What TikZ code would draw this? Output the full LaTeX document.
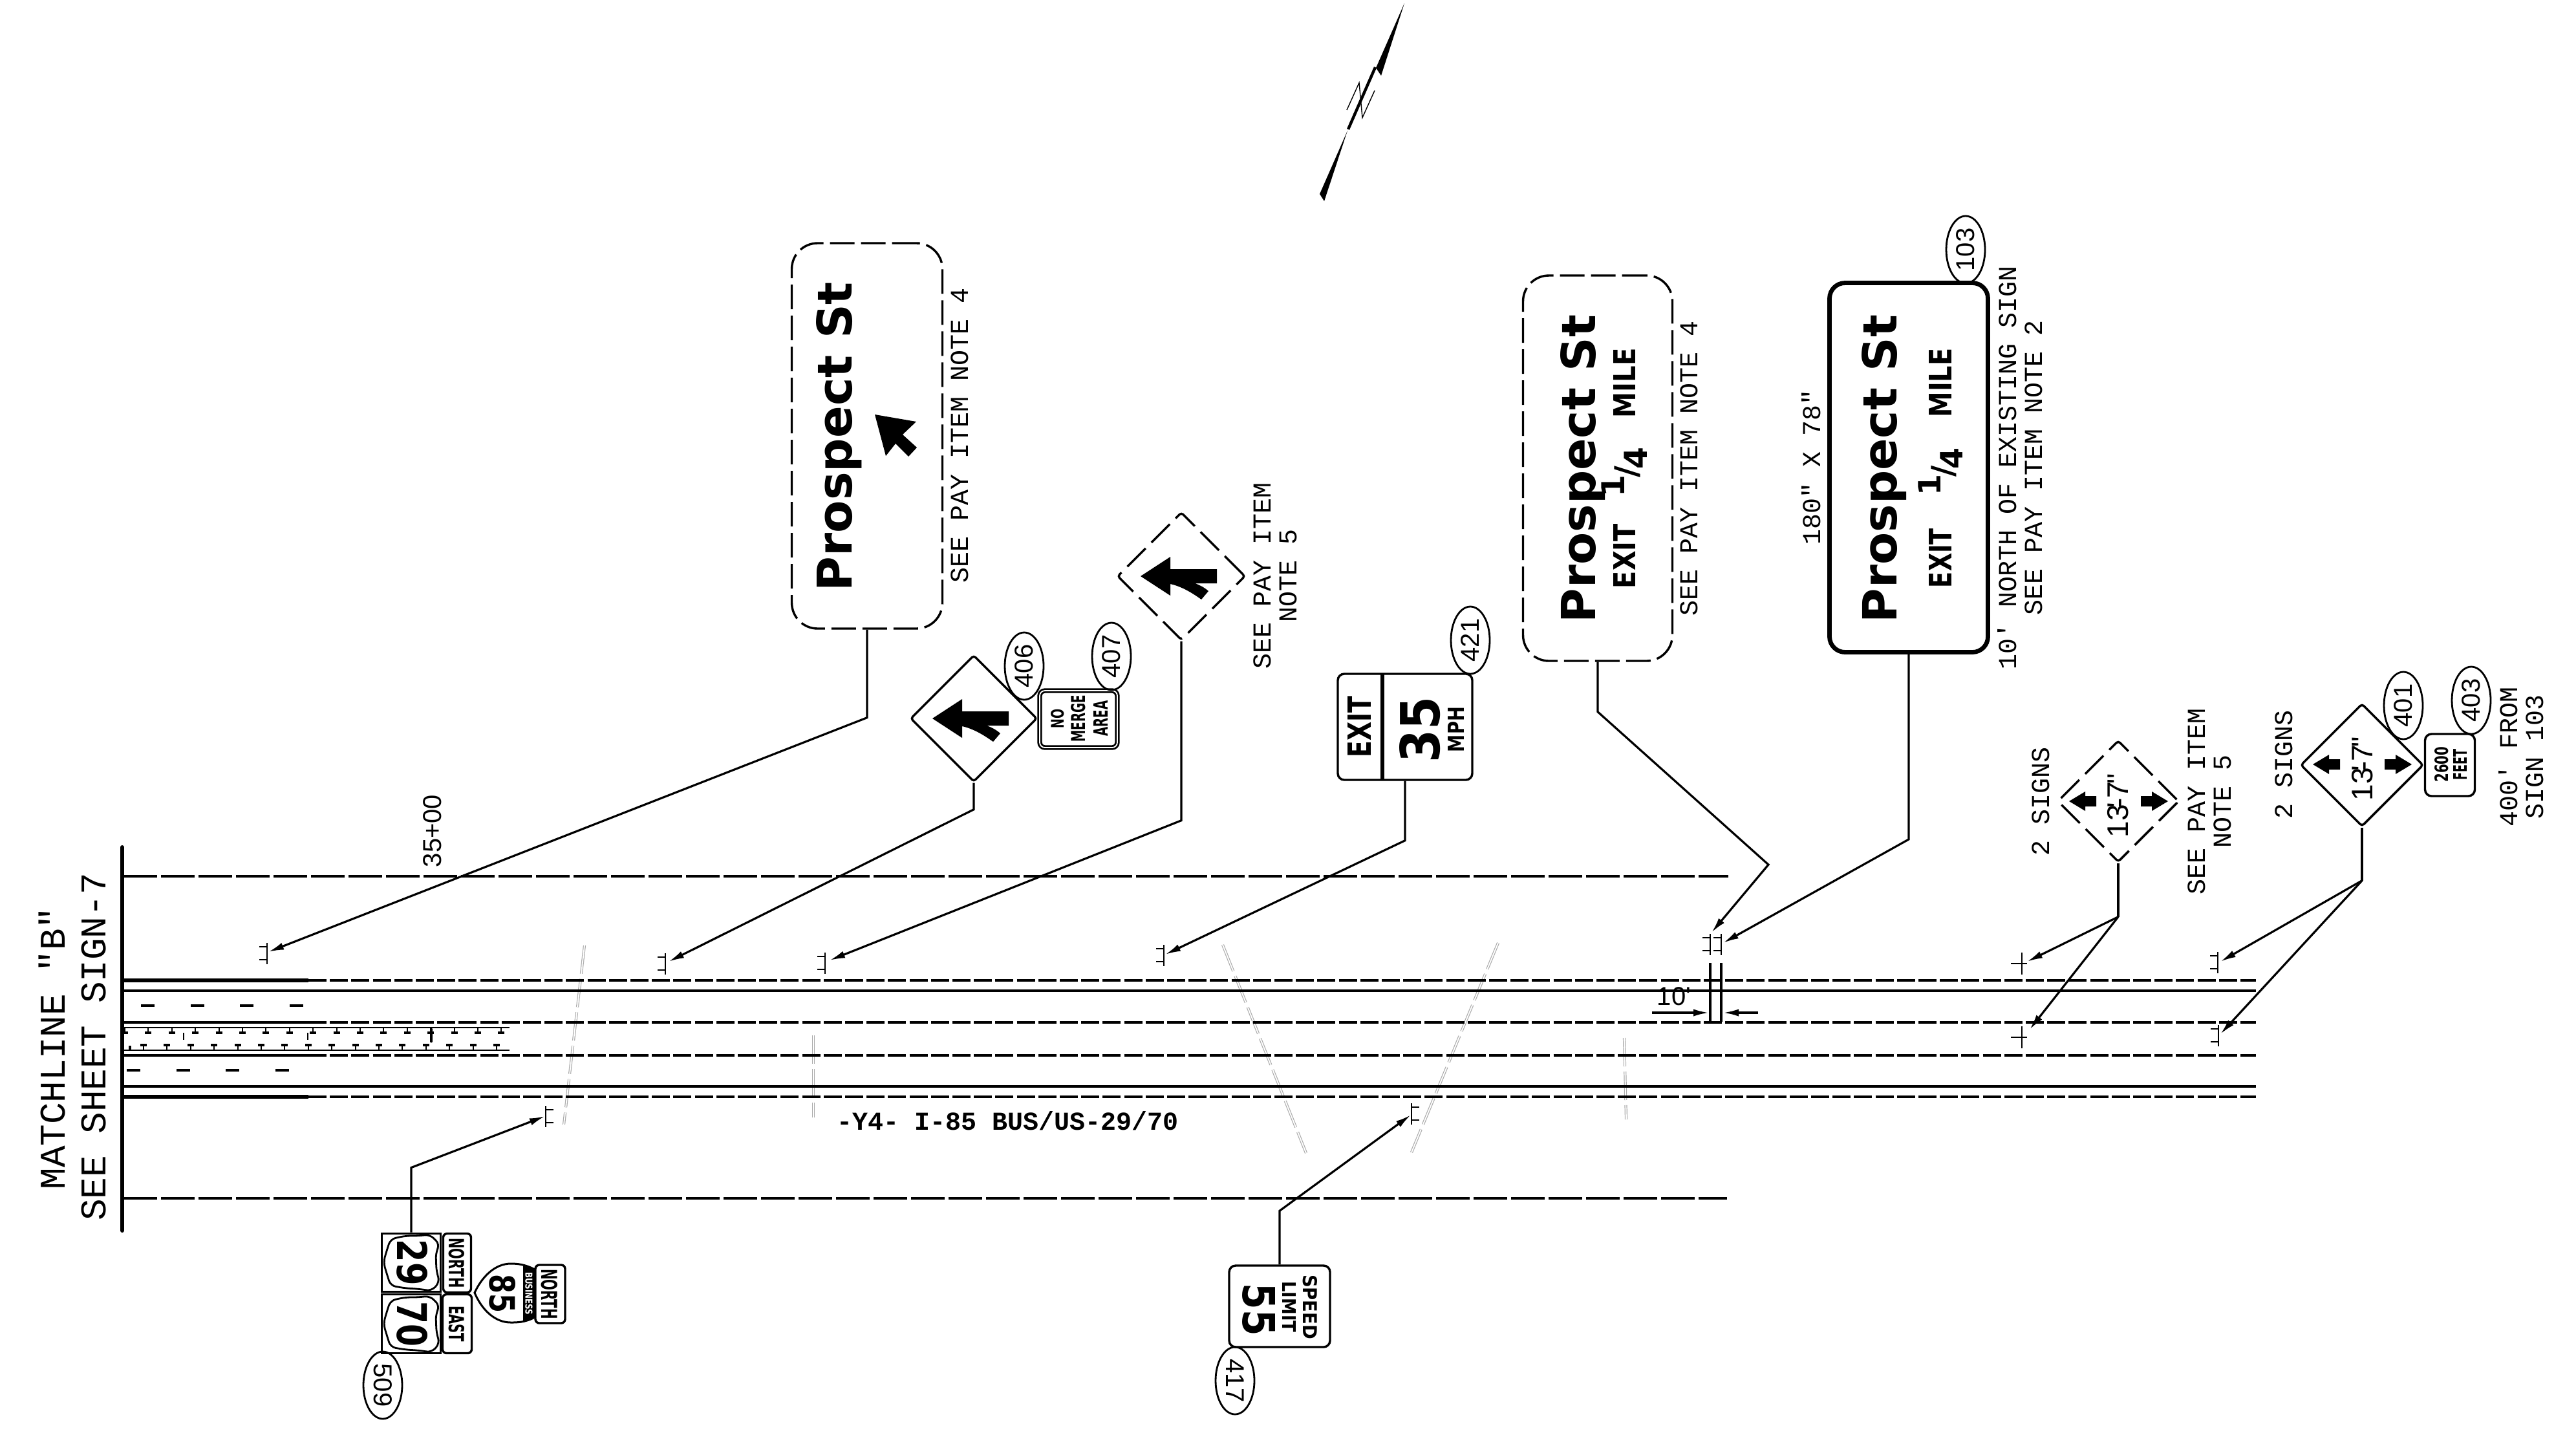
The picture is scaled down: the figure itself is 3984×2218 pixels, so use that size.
\documentclass[tikz,border=0pt]{standalone}
\usepackage{graphicx}
\usepackage{fontspec}
\usetikzlibrary{shapes.geometric, arrows.meta}
\newfontfamily\cadfont{Liberation Mono}
\newfontfamily\numfont{Liberation Sans}
\newfontfamily\signfont{DejaVu Sans}
\newcommand{\signfit}[3]{\resizebox{\dimexpr #1pt/4\relax}{\dimexpr #2pt/4\relax}{\signfont\bfseries #3}}
\newcommand{\signwide}[2]{\resizebox{\dimexpr #1pt/4\relax}{!}{\signfont\bfseries #2}}
\newcommand{\quartertxt}{\raisebox{.42em}{1}\kern-.1em/\kern-.1em\raisebox{-.3em}{4}}
\tikzset{
 pxsize/.style 2 args={minimum width=#1*0.25pt,minimum height=#2*0.25pt},
 signbox/.style={draw,rectangle,rounded corners=2.5pt,inner sep=0,line width=0.85pt},
 signdash/.style={signbox,rounded corners=10pt,dash pattern=on 9.5pt off 2.5pt},
 signdiam/.style={draw,diamond,aspect=1,inner sep=0,rounded corners=1pt,line width=0.85pt},
 diamdash/.style={signdiam,dash pattern=on 10pt off 3.2pt},
 oval/.style={draw,ellipse,rotate=90,inner sep=0,line width=0.7pt,minimum width=104*0.25pt,minimum height=60*0.25pt,font=\numfont\fontsize{10}{10}\selectfont},
 note/.style={rotate=90,inner sep=0,align=center,font=\cadfont\fontsize{10}{10}\selectfont},
 bigtxt/.style={rotate=90,inner sep=0,align=center,font=\cadfont\fontsize{14}{14}\selectfont},
 signtxt/.style={rotate=90,inner sep=0},
 signtxtr/.style={rotate=-90,inner sep=0},
 leader/.style={line width=0.8pt,-{Latex[length=6pt,width=2.8pt]}},
 stem/.style={line width=0.8pt},
 paveline/.style={line width=0.8pt},
 pavedash/.style={line width=0.9pt,dash pattern=on 7pt off 1.3pt},
 rowdash/.style={line width=0.8pt,dash pattern=on 13pt off 1.5pt},
 graydash/.style={draw=gray!65,line width=0.3pt,double,double distance=0.45pt,dash pattern=on 11pt off 2pt},
 postleft/.pic={\draw[line width=0.7pt] (0,-16.5) -- (0,16.5) (0,-10) -- (-12,-10) (0,10) -- (-12,10);},
 postright/.pic={\draw[line width=0.7pt] (0,-16.5) -- (0,16.5) (0,-10) -- (12,-10) (0,10) -- (12,10);},
 postcross/.pic={\draw[line width=0.7pt] (0,-17) -- (0,17) (-17,0) -- (8,0);},
 mergearrow/.pic={\fill (0,0) -- (46,-30) -- (46,-12) .. controls (64,-16) and (80,-26) .. (94,-36) -- (105,-23) .. controls (98,-17) and (92,-14) .. (84,-11) -- (118,-11) -- (118,11) -- (46,11) -- (46,30) -- cycle;},
 blockleft/.pic={\fill (0,0) -- (25,-15) -- (25,-8) -- (42,-8) -- (42,8) -- (25,8) -- (25,15) -- cycle;},
 blockright/.pic={\fill (0,0) -- (-25,-15) -- (-25,-8) -- (-42,-8) -- (-42,8) -- (-25,8) -- (-25,15) -- cycle;},
 usshield/.pic={\draw[line width=0.7pt,rounded corners=2pt] (32,-44) -- (10,-41) -- (-9,-40) -- (-32,-36) -- (-38,-17) -- (-43,0) -- (-38,18) -- (-32,36) -- (-9,41) -- (11,41) -- (29,43) -- (44,28) -- (38,15) -- (39,-14) -- (44,-30) -- cycle;}
}
\begin{document}
\begin{tikzpicture}[x=0.25pt,y=0.25pt,yscale=-1,xscale=1]
\useasboundingbox (0,0) rectangle (3984,2218);

%North arrow
\fill (2172,5) -- (2136,117) -- (2128,105) -- cycle;
\fill (2084,202) -- (2048,311) -- (2041,300) -- cycle;
\draw[line width=1.1pt] (2127,104) -- (2085,200);
\draw[line width=0.35pt] (2083,170) -- (2102,128) -- (2107,182) -- (2126,140);

%Construction lines
\draw[graydash] (904,1462) -- (872,1739);
\draw[graydash] (1258,1601) -- (1258,1728);
\draw[graydash] (1891,1461) -- (2020,1783);
\draw[graydash] (2317,1458) -- (2183,1782);
\draw[graydash] (2512,1605) -- (2515,1731);

%Road lines
\draw[line width=1.5pt,line cap=round] (189,1310) -- (189,1903);
\draw[rowdash] (191,1355) -- (2673,1355);
\draw[rowdash] (191,1853) -- (2671,1853);
\draw[line width=1.5pt] (191,1516) -- (477,1516);
\draw[line width=1.5pt] (191,1696) -- (477,1696);
\draw[line width=1.1pt] (191,1581) -- (477,1581);
\draw[line width=1.1pt] (191,1632) -- (477,1632);
\foreach \ly in {1516,1581,1632,1696} {
 \draw[pavedash] (477,\ly) -- (3489,\ly);
}
\draw[paveline] (191,1532) -- (3489,1532);
\draw[paveline] (191,1680) -- (3489,1680);
\foreach \lx in {218,295,371,448} {
 \draw[line width=0.8pt] (\lx,1555) -- (\lx+21,1555);
}
\foreach \lx in {196,273,349,426} {
 \draw[line width=0.8pt] (\lx,1655) -- (\lx+21,1655);
}

%Barrier
\draw[line width=0.7pt] (191,1589) -- (788,1589);
\draw[line width=0.7pt] (191,1624) -- (788,1624);
\foreach \i in {0,...,16} {
 \draw[line width=0.5pt] (193+36.4*\i,1589) -- (193+36.4*\i,1597);
 \draw[line width=0.8pt] (188+36.4*\i,1597) -- (198+36.4*\i,1597);
}
\foreach \i in {0,...,15} {
 \draw[line width=0.5pt] (222+36.4*\i,1624) -- (222+36.4*\i,1616);
 \draw[line width=0.8pt] (217+36.4*\i,1616) -- (227+36.4*\i,1616);
}
\draw[line width=0.7pt] (284,1597) -- (284,1608);
\draw[line width=0.7pt] (476,1597) -- (476,1608);
\draw[line width=1.2pt,line cap=round] (667,1592) -- (667,1610);
\draw[line width=0.8pt] (201,1617) -- (201,1624);

%Post marks
\pic at (413,1474) {postleft};
\pic at (1029,1490) {postleft};
\pic at (1276,1489) {postleft};
\pic at (1800,1477) {postleft};
\pic at (2645,1460) {postleft};
\pic at (2662,1460) {postleft};
\pic at (3430,1488) {postleft};
\pic at (3431,1601) {postleft};
\pic at (844,1726) {postright};
\pic at (2183,1722) {postright};
\pic at (3127,1490) {postcross};
\pic at (3127,1604) {postcross};
\coordinate (tipA) at (415,1472);
\coordinate (tipB) at (1034,1487);
\coordinate (tipC) at (1283,1485);
\coordinate (tipD) at (1802,1476);
\coordinate (tipE) at (2647,1442);
\coordinate (tipF) at (2665,1458);
\coordinate (tipG) at (3135,1487);
\coordinate (tipH) at (3139,1592);
\coordinate (tipI) at (3434,1487);
\coordinate (tipJ) at (3434,1599);
\coordinate (tipK) at (843,1726);
\coordinate (tipL) at (2182,1724);

%Signs
\node[signdash,pxsize={233}{596}] (sgnArrow) at (1341,674) {};
\node[signdash,pxsize={231}{596}] (sgnExitD) at (2471,724) {};
\node[signbox,line width=1.7pt,rounded corners=6pt,pxsize={245}{571}] (sgnExit) at (2952,723) {};
\node[signdiam,pxsize={196}{196}] (diaMerge) at (1506,1111) {};
\node[diamdash,pxsize={198}{198}] (diaMergeD) at (1827,891) {};
\node[diamdash,pxsize={188}{188}] (diaTwoD) at (3276,1239) {};
\node[signdiam,pxsize={190}{190}] (diaTwo) at (3653,1183) {};
\node[signbox,line width=0.7pt,double,double distance=0.45pt,rounded corners=2pt,pxsize={120}{88}] (sgnNoMerge) at (1668,1112) {};
\node[signbox,pxsize={208}{164}] (sgnSpeedE) at (2173,1124) {};
\draw[line width=1.7pt] (2138,1042) -- (2138,1206);
\node[signbox,pxsize={77}{96}] (sgnFeet) at (3789,1183) {};
\node[signbox,pxsize={156}{126}] (sgnSpeed) at (1979,2020) {};
\node[draw,rectangle,inner sep=0,line width=0.75pt,pxsize={91}{90}] (sgnUsA) at (636,1952) {};
\node[draw,rectangle,inner sep=0,line width=0.75pt,pxsize={91}{91}] (sgnUsB) at (636,2047) {};
\node[signbox,rounded corners=1.5pt,pxsize={43}{91}] (sgnNorthA) at (707,1953) {};
\node[signbox,rounded corners=1.5pt,pxsize={45}{91}] (sgnEast) at (707,2047) {};
\node[signbox,rounded corners=1.5pt,pxsize={46}{90}] (sgnNorthB) at (851,2001) {};
\pic at (636,1952) {usshield};
\pic at (636,2047) {usshield};
\draw[line width=0.75pt] (827,1963) .. controls (812,1955) and (800,1954) .. (790,1954) .. controls (765,1954) and (745,1975) .. (734,1999) .. controls (745,2025) and (765,2045) .. (790,2045) .. controls (800,2045) and (812,2045) .. (827,2037) -- cycle;
\fill (809,1957) -- (827,1963) -- (827,2037) -- (809,2044) -- cycle;

%Sign symbols
\fill (1353,641) -- (1417,652) -- (1396,672) -- (1418,692) -- (1405,706) -- (1385,686) -- (1370,705) -- cycle;
\pic at (1442,1111) {mergearrow};
\pic at (1764,891) {mergearrow};
\pic at (3200,1239) {blockleft};
\pic at (3353,1239) {blockright};
\pic at (3577,1182) {blockleft};
\pic at (3730,1182) {blockright};

%Leaders
\draw[leader] (sgnArrow.south) -- ++(0,136) -- (tipA);
\draw[leader] (diaMerge.south) -- ++(0,41) -- (tipB);
\draw[leader] (diaMergeD.south) -- ++(0,277) -- (tipC);
\draw[leader] (sgnSpeedE.south) -- ++(0,92) -- (tipD);
\draw[leader] (sgnExitD.south) -- ++(0,77) -- (2735,1337) -- (tipE);
\draw[leader] (sgnExit.south) -- ++(0,286) -- (tipF);
\draw[stem] (diaTwoD.south) -- ++(0,83) coordinate (jctTwoD);
\draw[leader] (jctTwoD) -- (tipG);
\draw[leader] (jctTwoD) -- (tipH);
\draw[stem] (diaTwo.south) -- ++(0,82) coordinate (jctTwo);
\draw[leader] (jctTwo) -- (tipI);
\draw[leader] (jctTwo) -- (tipJ);
\draw[leader] (sgnUsA.north) -- ++(0,-100) -- (tipK);
\draw[leader] (sgnSpeed.north) -- ++(0,-83) -- (tipL);

%Ten foot dimension
\coordinate (dimAt) at (2645,1489);
\coordinate (dimAb) at (2645,1580);
\coordinate (dimBt) at (2662,1489);
\coordinate (dimBb) at (2662,1580);
\coordinate (dimAl) at (2555,1566);
\coordinate (dimAr) at (2643,1566);
\coordinate (dimBl) at (2665,1566);
\coordinate (dimBr) at (2719,1566);
\draw[stem] (dimAt) -- (dimAb);
\draw[stem] (dimBt) -- (dimBb);
\draw[leader] (dimAl) -- (dimAr);
\draw[leader] (dimBr) -- (dimBl);

% Text Node
\node[inner sep=0,font=\numfont\fontsize{10}{10}\selectfont] (txtTen) at (2589,1541) {10'};
% Text Node
\node[rotate=90,inner sep=0,font=\numfont\fontsize{10}{10}\selectfont] (txtStation) at (669,1285) {35+00};
% Text Node
\node[inner sep=0,font=\cadfont\bfseries\fontsize{10}{10}\selectfont] (txtRoad) at (1559,1733) {-Y4- I-85 BUS/US-29/70};
% Text Node
\node[bigtxt] (txtMatchA) at (80,1621) {MATCHLINE "B"};
% Text Node
\node[bigtxt] (txtMatchB) at (145,1619) {SEE SHEET SIGN-7};
% Text Node
\node[note] (txtNoteA) at (1484,673) {SEE PAY ITEM NOTE 4};
% Text Node
\node[note] (txtNoteB) at (1972,890) {SEE PAY ITEM\\NOTE 5};
% Text Node
\node[note] (txtNoteC) at (2612,724) {SEE PAY ITEM NOTE 4};
% Text Node
\node[note] (txtSize) at (2801,722) {180" X 78"};
% Text Node
\node[note] (txtNoteD) at (3124,723) {10' NORTH OF EXISTING SIGN\\SEE PAY ITEM NOTE 2};
% Text Node
\node[note] (txtTwoD) at (3156,1239) {2 SIGNS};
% Text Node
\node[note] (txtNoteE) at (3417,1239) {SEE PAY ITEM\\NOTE 5};
% Text Node
\node[note] (txtTwo) at (3532,1182) {2 SIGNS};
% Text Node
\node[note] (txtFrom) at (3899,1170) {400' FROM\\SIGN 103};

%Sign numbers
\node[oval] (ovl103) at (3040,386) {103};
\node[oval] (ovl406) at (1584,1030) {406};
\node[oval] (ovl407) at (1719,1015) {407};
\node[oval] (ovl421) at (2274,990) {421};
\node[oval] (ovl401) at (3717,1091) {401};
\node[oval] (ovl403) at (3822,1083) {403};
\node[oval,rotate=180] (ovl417) at (1910,2135) {417};
\node[oval,rotate=180] (ovl509) at (592,2142) {509};

%Sign texts
\node[signtxt,anchor=base] (txtProsA) at (1317,675) {\signfit{478}{55}{Prospect St}};
\node[signtxt,anchor=base] (txtProsB) at (2467,725) {\signfit{476}{54}{Prospect St}};
\node[signtxt,anchor=base] (txtProsC) at (2933,725) {\signfit{476}{54}{Prospect St}};
\node[signtxt] (txtExitB) at (2512,860) {\signfit{100}{34}{EXIT}};
\node[signtxt] (txtQuarB) at (2512,730) {\signwide{76}{\quartertxt}};
\node[signtxt] (txtMileB) at (2512,592) {\signfit{108}{34}{MILE}};
\node[signtxt] (txtExitC) at (3001,863) {\signfit{92}{35}{EXIT}};
\node[signtxt] (txtQuarC) at (3001,729) {\signwide{74}{\quartertxt}};
\node[signtxt] (txtMileC) at (3001,592) {\signfit{107}{35}{MILE}};
\node[signtxt] (txtNo) at (1636,1111) {\signfit{30}{20}{NO}};
\node[signtxt] (txtMerge) at (1668,1111) {\signfit{73}{22}{MERGE}};
\node[signtxt] (txtArea) at (1702,1111) {\signfit{55}{22}{AREA}};
\node[signtxt] (txtExitE) at (2102,1124) {\signfit{95}{36}{EXIT}};
\node[signtxt] (txtThirty) at (2196,1128) {\signfit{102}{62}{35}};
\node[signtxt] (txtMph) at (2252,1128) {\signfit{70}{25}{MPH}};
\node[signtxt] (txtFeetA) at (3776,1182) {\signfit{55}{21}{2600}};
\node[signtxt] (txtFeetB) at (3805,1182) {\signfit{48}{21}{FEET}};
\node[signtxt,font=\numfont\fontsize{11.5}{11.5}\selectfont] (txtSizeD) at (3276,1246) {13\kern-.12em'\kern-.18em-\kern-.02em7\kern-.08em"};
\node[signtxt,font=\numfont\fontsize{11.5}{11.5}\selectfont] (txtSizeS) at (3654,1189) {13\kern-.12em'\kern-.18em-\kern-.02em7\kern-.08em"};
\node[signtxtr] (txtSpeed) at (2026,2021) {\signfit{100}{22}{SPEED}};
\node[signtxtr] (txtLimit) at (1994,2021) {\signfit{79}{21}{LIMIT}};
\node[signtxtr] (txtFiftyFive) at (1947,2025) {\signfit{81}{50}{55}};
\node[signtxtr] (txtTwentyNine) at (638,1952) {\signfit{71}{47}{29}};
\node[signtxtr] (txtSeventy) at (638,2047) {\signfit{70}{47}{70}};
\node[signtxtr] (txtNorthA) at (706,1953) {\signfit{77}{24}{NORTH}};
\node[signtxtr] (txtEast) at (706,2047) {\signfit{56}{24}{EAST}};
\node[signtxtr] (txtEightyFive) at (777,2000) {\signfit{60}{40}{85}};
\node[signtxtr,text=white] (txtBusiness) at (818,2000) {\signfit{66}{11}{BUSINESS}};
\node[signtxtr] (txtNorthB) at (850,2001) {\signfit{78}{25}{NORTH}};

\end{tikzpicture}
\end{document}
